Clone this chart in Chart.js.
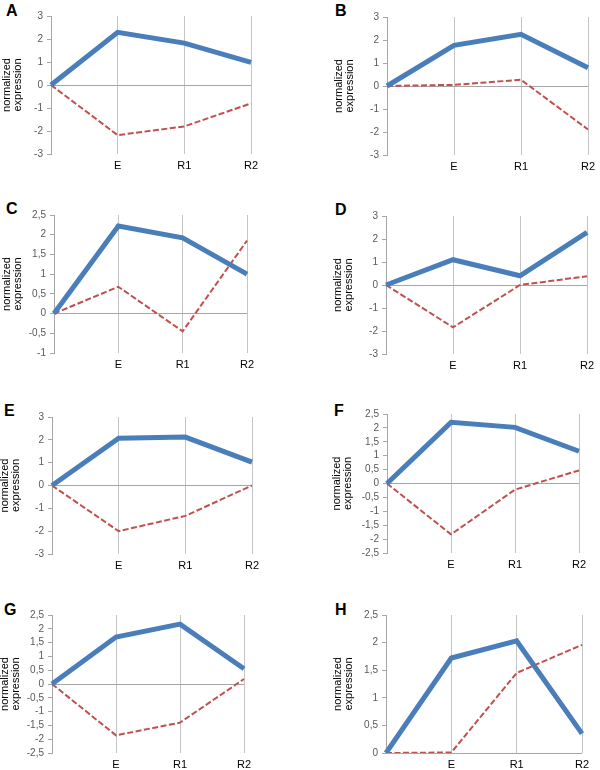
<!DOCTYPE html>
<html>
<head>
<meta charset="utf-8">
<script src="https://cdn.jsdelivr.net/npm/chart.js@4/dist/chart.umd.min.js"></script>
<style>
  body { margin:0; background:#fff; width:600px; height:770px; position:relative; overflow:hidden; font-family:Arial, "Liberation Sans", sans-serif; }
  canvas { position:absolute; }
  .tag { position:absolute; font:bold 16px Arial, "Liberation Sans", sans-serif; color:#000; line-height:16px; }
</style>
</head>
<body>
<script>
const categories = ["", "E", "R1", "R2"];
const panelNames = ["A", "B", "C", "D", "E", "F", "G", "H"];

const solidA = [0, 2.29, 1.82, 0.98];
const dashedA = [0, -2.18, -1.8, -0.8];
const solidB = [0, 1.77, 2.25, 0.79];
const dashedB = [0, 0.05, 0.27, -1.89];
const solidC = [0, 2.22, 1.92, 1.0];
const dashedC = [0, 0.68, -0.45, 1.85];
const solidD = [0, 1.1, 0.4, 2.29];
const dashedD = [0, -1.84, 0, 0.38];
const solidE = [0, 2.07, 2.12, 1.02];
const dashedE = [0, -2.0, -1.33, 0];
const solidF = [0, 2.2, 2.02, 1.16];
const dashedF = [0, -1.83, -0.22, 0.47];
const solidG = [0, 1.7, 2.17, 0.55];
const dashedG = [0, -1.86, -1.4, 0.18];
const solidH = [0, 1.72, 2.03, 0.35];
const dashedH = [0, 0.01, 1.45, 1.96];

const yMin = [-3, -3, -1, -3, -3, -2.5, -2.5, 0];
const yMax = [3, 3, 2.5, 3, 3, 2.5, 2.5, 2.5];
const yStep = [1, 1, 0.5, 1, 1, 0.5, 0.5, 0.5];

const solids = [solidA, solidB, solidC, solidD, solidE, solidF, solidG, solidH];
const dashes = [dashedA, dashedB, dashedC, dashedD, dashedE, dashedF, dashedG, dashedH];

// page geometry: title x, plot left/right/top/bottom, letter x/y
const boxes = [
  { tx:7,   l:51,  r:251, t:16,  b:154, lx:6,   ly:3 },
  { tx:339, l:387, r:588, t:17,  b:155, lx:335, ly:3 },
  { tx:7,   l:54,  r:247, t:215, b:353, lx:6,   ly:201 },
  { tx:338, l:386, r:587, t:216, b:354, lx:335, ly:202 },
  { tx:5,   l:52,  r:252, t:417, b:554, lx:4,   ly:403 },
  { tx:337, l:387, r:579, t:414, b:553, lx:334, ly:403 },
  { tx:5,   l:52,  r:244, t:615, b:753, lx:4,   ly:602 },
  { tx:338, l:386, r:582, t:615, b:753, lx:335, ly:602 }
];

const fmtComma = v => String(v).replace(".", ",");

panelNames.forEach((name, i) => {
  const g = boxes[i];
  const cl = g.tx - 6, ct = g.t - 12;
  const w = g.r + 16 - cl, h = g.b + 28 - ct;

  const tag = document.createElement("div");
  tag.className = "tag";
  tag.textContent = name;
  tag.style.left = g.lx + "px";
  tag.style.top = g.ly + "px";
  document.body.appendChild(tag);

  const cv = document.createElement("canvas");
  cv.style.left = cl + "px";
  cv.style.top = ct + "px";
  cv.style.width = w + "px";
  cv.style.height = h + "px";
  cv.width = w;
  cv.height = h;
  document.body.appendChild(cv);

  new Chart(cv, {
    type:"line",
    data:{
      labels:categories,
      datasets:[{
        data:solids[i],
        borderColor:"#4A7EBB",
        borderWidth:5,
        pointRadius:0,
        tension:0
      },{
        data:dashes[i],
        borderColor:"#C0504D",
        borderWidth:2,
        borderDash:[6,2.5],
        pointRadius:0,
        tension:0
      }]
    },
    options:{
      responsive:false,
      animation:false,
      layout:{ padding:{ top:12, right:16, left:0, bottom:0 } },
      plugins:{ legend:{ display:false }, tooltip:{ enabled:false } },
      scales:{
        x:{
          offset:false,
          afterFit:s => { s.height = 28; },
          border:{ display:false },
          grid:{ color:"#c4c4c4", drawTicks:false, lineWidth:1 },
          ticks:{ color:"#000", padding:5, font:{ family:"Arial", size:11 }, maxRotation:0, autoSkip:false }
        },
        y:{
          min:yMin[i],
          max:yMax[i],
          afterFit:s => { s.width = g.l - cl; },
          border:{ display:true, color:"#a6a6a6", width:1 },
          grid:{
            color:ctx => ctx.tick && ctx.tick.value === 0 ? "#a6a6a6" : "transparent",
            tickColor:"#a6a6a6",
            tickLength:4
          },
          ticks:{
            stepSize:yStep[i],
            autoSkip:false,
            padding:4,
            color:"#595959",
            font:{ family:"Arial", size:10 },
            callback:fmtComma
          },
          title:{
            display:true,
            text:["normalized", "expression"],
            color:"#000",
            padding:0,
            font:{ family:"Arial", size:11, lineHeight:1.05 }
          }
        }
      }
    }
  });
});
</script>
</body>
</html>
